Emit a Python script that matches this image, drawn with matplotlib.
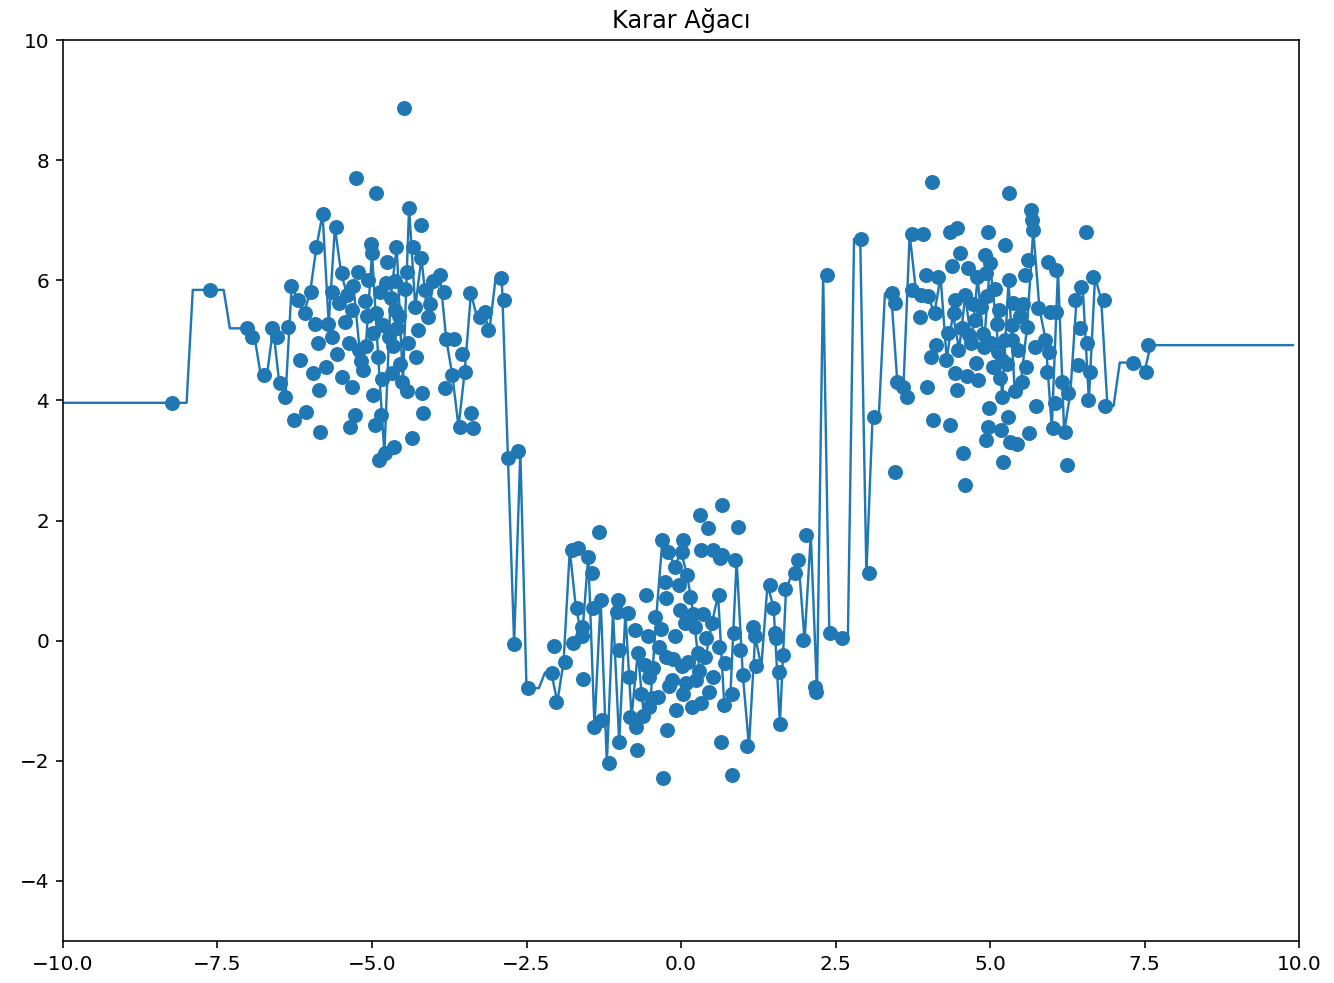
import matplotlib
matplotlib.use('Agg')
import matplotlib.pyplot as plt
import numpy as np

# points, grouped by cluster
x_left = [-8.24, -7.62, -7.03, -6.94, -6.74, -6.62, -6.54, -6.49, -6.41, -6.36,
          -6.31, -6.26, -6.19, -6.17, -6.08, -6.06, -5.98, -5.96, -5.92, -5.91,
          -5.88, -5.86, -5.84, -5.80, -5.75, -5.71, -5.65, -5.64, -5.59, -5.56,
          -5.54, -5.49, -5.48, -5.44, -5.38, -5.36, -5.33, -5.32, -5.28, -5.26,
          -5.22, -5.21, -5.17, -5.14, -5.12, -5.08, -5.06, -5.02, -5.00, -4.99,
          -4.98, -4.95, -4.94, -4.91, -4.89, -4.87, -4.85, -4.82, -4.79, -4.76,
          -4.73, -4.70, -4.68, -4.65, -4.63, -4.62, -4.61, -4.57, -4.54, -4.48,
          -4.47, -4.44, -4.43, -4.42, -4.40, -4.36, -4.33, -4.30, -4.28, -4.25,
          -4.21, -4.20, -4.19, -4.18, -4.14, -4.09, -4.06, -4.01, -3.90, -3.83,
          -3.82, -3.81, -3.71, -3.68, -3.58, -3.55, -3.50, -3.41, -3.39, -3.36,
          -3.25, -3.17, -3.12, -2.92, -2.86, -2.80, -2.70, -2.64,
          -5.41, -5.30, -5.10, -4.93, -4.84, -4.77, -4.66, -4.59, -4.51]
y_left = [3.96, 5.84, 5.20, 5.05, 4.42, 5.20, 5.06, 4.29, 4.06, 5.23,
          5.90, 3.67, 5.67, 4.67, 5.45, 3.81, 5.81, 4.45, 5.28, 6.55,
          4.95, 4.17, 3.48, 7.10, 4.55, 5.28, 5.81, 5.05, 6.88, 4.78,
          5.62, 6.12, 4.39, 5.30, 4.95, 3.56, 5.51, 4.23, 3.76, 7.71,
          6.13, 4.84, 4.65, 4.51, 5.65, 5.40, 6.00, 6.60, 6.45, 5.12,
          4.09, 3.59, 7.46, 4.73, 3.01, 5.80, 3.76, 5.25, 3.12, 6.31,
          5.05, 5.70, 4.45, 3.23, 5.51, 5.98, 6.55, 5.40, 4.60, 8.86,
          5.85, 6.14, 4.15, 4.95, 7.21, 3.37, 6.56, 5.55, 4.73, 5.17,
          6.92, 6.37, 4.12, 3.79, 5.84, 5.39, 5.60, 5.98, 6.09, 5.81,
          4.20, 5.03, 4.42, 5.03, 3.56, 4.78, 4.48, 5.78, 3.79, 3.54,
          5.39, 5.48, 5.17, 6.03, 5.67, 3.04, -0.05, 3.15,
          5.75, 5.90, 4.90, 5.45, 4.35, 5.95, 4.90, 5.20, 4.30]

x_mid = [-2.47, -2.09, -2.06, -2.03, -1.87, -1.77, -1.74, -1.69, -1.66, -1.61,
         -1.60, -1.58, -1.50, -1.44, -1.42, -1.41, -1.33, -1.29, -1.28, -1.17,
         -1.04, -1.02, -1.01, -1.00, -0.85, -0.84, -0.83, -0.74, -0.73, -0.72,
         -0.69, -0.64, -0.61, -0.56, -0.53, -0.52, -0.51, -0.45, -0.42, -0.37,
         -0.36, -0.31, -0.29, -0.26, -0.25, -0.24, -0.23, -0.21, -0.19, -0.15,
         -0.10, -0.09, -0.08, -0.04, -0.02, 0.01, 0.02, 0.03, 0.04, 0.06,
         0.09, 0.12, 0.15, 0.17, 0.23, 0.24, 0.27, 0.31, 0.32, 0.33,
         0.36, 0.39, 0.44, 0.45, 0.50, 0.51, 0.52, 0.61, 0.62, 0.63,
         0.64, 0.66, 0.67, 0.70, 0.72, 0.82, 0.83, 0.85, 0.87, 0.93,
         0.95, 1.01, 1.06, 1.17, 1.19, 1.22, 1.44, 1.49, 1.52, 1.53,
         1.58, 1.60, 1.65, 1.68, 1.84, 1.90, 1.98, 2.03, 2.17, 2.19,
         2.36, 2.41, 2.61, 2.91, 3.04, 3.12,
         -0.59, -0.47, -0.33, -0.13, 0.08, 0.19, 0.29, 0.41]
y_mid = [-0.79, -0.53, -0.09, -1.02, -0.35, 1.51, -0.04, 0.54, 1.54, 0.23,
         0.07, -0.63, 1.40, 1.12, 0.54, -1.43, 1.81, 0.68, -1.32, -2.04,
         0.48, 0.68, -0.15, -1.68, 0.46, -0.60, -1.27, 0.18, -1.43, -1.82,
         -0.21, -0.88, -1.25, 0.76, 0.07, -0.60, -1.10, -0.45, 0.40, -0.93,
         -0.10, 1.68, -2.29, 0.98, 0.71, -0.27, -1.49, 1.48, -0.75, -0.65,
         1.23, 0.07, -1.15, 0.93, 0.51, 1.48, -0.43, -0.88, 1.68, 0.30,
         1.09, -0.35, 0.73, -1.10, 0.23, -0.65, -0.20, 2.09, 1.51, -1.04,
         0.45, -0.27, 1.87, -0.85, 0.29, -0.60, 1.51, 0.76, -0.10, 1.37,
         -1.68, 2.26, 1.43, -1.07, -0.38, -0.88, -2.24, 0.12, 1.34, 1.90,
         -0.15, -0.57, -1.76, 0.23, 0.07, -0.43, 0.93, 0.54, 0.12, 0.04,
         -0.52, -1.38, -0.24, 0.86, 1.12, 1.34, 0.01, 1.76, -0.77, -0.85,
         6.09, 0.12, 0.04, 6.69, 1.12, 3.73,
         -0.40, -0.95, 0.20, -0.30, -0.70, 0.45, -0.50, 0.05]

x_right = [3.41, 3.46, 3.47, 3.49, 3.60, 3.65, 3.73, 3.74, 3.87, 3.89,
           3.92, 3.97, 3.98, 4.00, 4.04, 4.06, 4.08, 4.11, 4.13, 4.16,
           4.29, 4.32, 4.35, 4.36, 4.38, 4.41, 4.43, 4.44, 4.46, 4.47,
           4.48, 4.52, 4.55, 4.57, 4.59, 4.60, 4.65, 4.66, 4.70, 4.76,
           4.77, 4.81, 4.85, 4.91, 4.92, 4.93, 4.94, 4.95, 4.96, 4.97,
           4.98, 5.00, 5.05, 5.08, 5.11, 5.13, 5.16, 5.18, 5.19, 5.20,
           5.21, 5.24, 5.25, 5.29, 5.30, 5.31, 5.32, 5.35, 5.38, 5.40,
           5.43, 5.46, 5.51, 5.53, 5.57, 5.58, 5.60, 5.62, 5.63, 5.67,
           5.68, 5.70, 5.73, 5.74, 5.78, 5.89, 5.92, 5.94, 5.95, 5.97,
           6.02, 6.05, 6.06, 6.07, 6.16, 6.21, 6.24, 6.27, 6.38, 6.43,
           6.46, 6.48, 6.56, 6.57, 6.58, 6.62, 6.67, 6.84, 6.86, 7.32,
           7.53, 7.56,
           4.62, 4.73, 4.79, 4.88, 5.02, 5.14, 5.27, 5.36, 5.48]
y_right = [5.78, 2.81, 5.62, 4.31, 4.23, 4.06, 6.77, 5.84, 5.39, 5.75,
           6.77, 6.09, 4.23, 5.73, 4.73, 7.64, 3.67, 5.45, 4.92, 6.06,
           4.67, 5.12, 6.81, 3.59, 6.23, 5.45, 5.67, 4.45, 6.87, 4.17,
           4.84, 6.45, 5.20, 3.12, 2.59, 5.75, 6.20, 5.09, 4.95, 5.34,
           4.62, 4.34, 5.55, 4.89, 6.42, 6.12, 3.34, 5.73, 3.56, 6.81,
           3.87, 6.28, 4.55, 5.85, 5.28, 4.80, 4.37, 3.51, 4.67, 4.06,
           2.98, 6.59, 5.01, 3.73, 6.00, 7.46, 3.31, 5.25, 5.62, 4.15,
           3.28, 4.84, 4.31, 5.60, 6.09, 4.56, 5.23, 6.34, 3.45, 7.17,
           7.00, 6.84, 4.89, 3.90, 5.53, 5.01, 4.48, 6.31, 4.81, 5.48,
           3.54, 3.95, 5.48, 6.17, 4.31, 3.48, 2.92, 4.12, 5.67, 4.59,
           5.20, 5.89, 6.81, 4.96, 4.01, 4.48, 6.06, 5.67, 3.91, 4.63,
           4.48, 4.92,
           4.40, 5.60, 6.05, 5.10, 4.95, 5.50, 4.60, 5.00, 5.40]

X = np.array(x_left + x_mid + x_right)
y = np.array(y_left + y_mid + y_right)

# fully grown regression tree on 1-D data: split at midpoints, one sample per leaf
order = np.argsort(X)
xs, ys = X[order], y[order]
thresholds = (xs[1:] + xs[:-1]) / 2
X_grid = np.arange(-10, 10, 0.1)
y_pred = ys[np.searchsorted(thresholds, X_grid, side='left')]

fig = plt.figure(figsize=(1334 / 144, 983 / 144), dpi=144)
ax = fig.add_axes([63 / 1334, 1 - 941 / 983, (1299 - 63) / 1334, (941 - 40) / 983])
ax.scatter(X, y, color='#1f77b4', s=42)
ax.plot(X_grid, y_pred, color='#1f77b4', linewidth=1.2)
ax.set_xlim(-10, 10)
ax.set_ylim(-5, 10)
ax.set_title('Karar Ağacı')
fig.savefig('out.png', dpi=144)
